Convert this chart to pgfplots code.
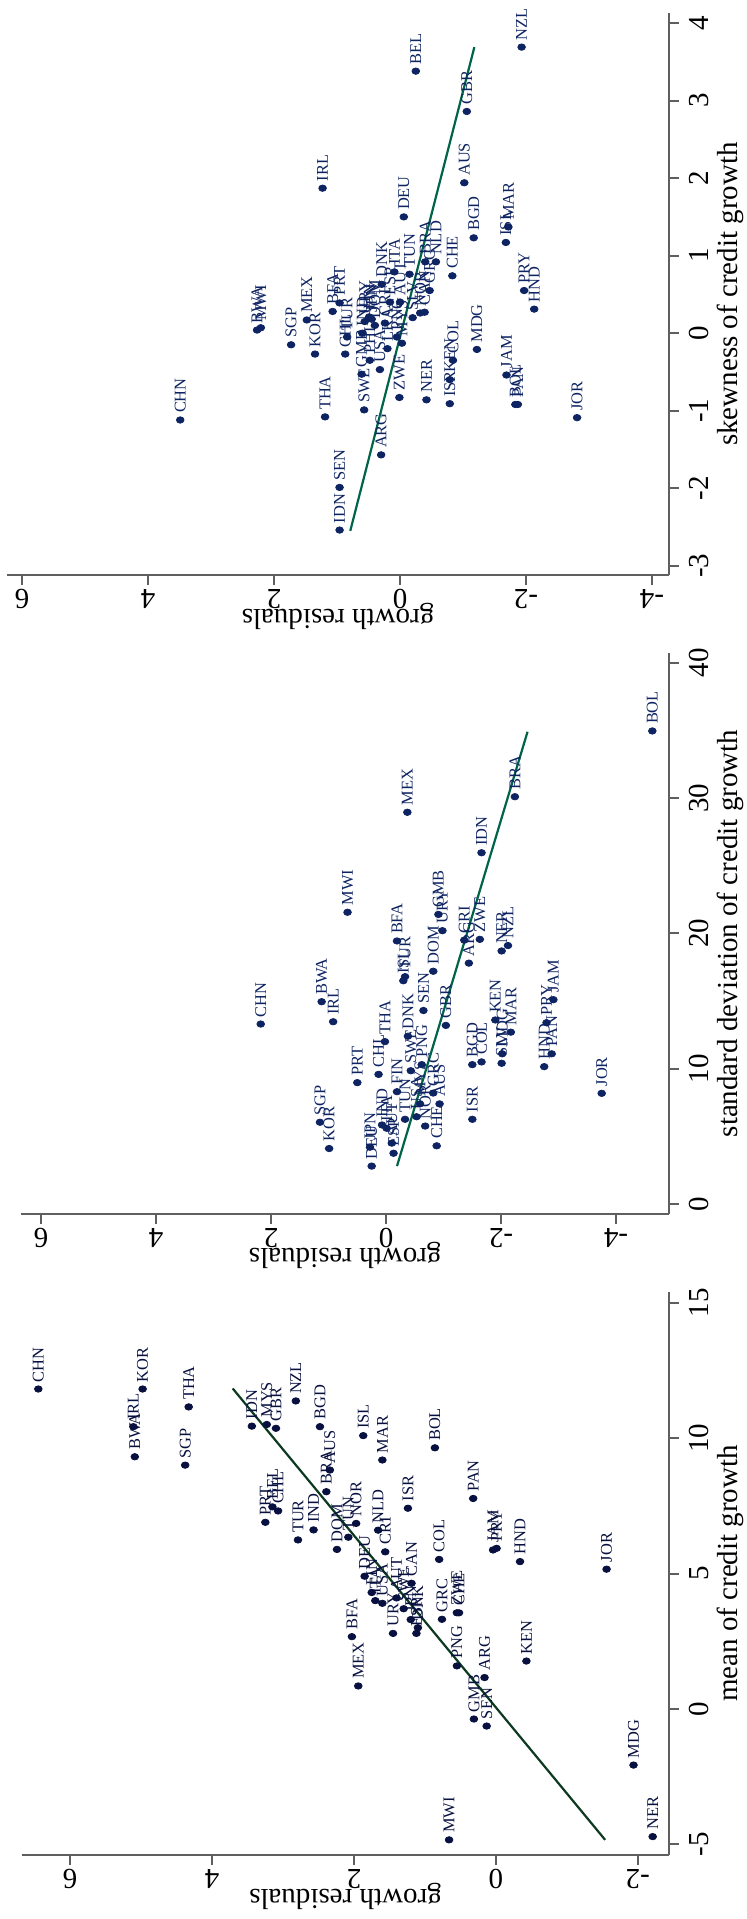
\documentclass[border=0pt]{standalone}
\usepackage{fontspec}
\setmainfont{Liberation Serif}
\usepackage{pgfplots}
\usepackage{pgfplotstable}
\pgfplotsset{compat=1.18}
\definecolor{mk}{RGB}{14,36,98}
\definecolor{mkb}{RGB}{8,16,64}
\definecolor{fitc}{RGB}{0,100,72}
\definecolor{fitb}{RGB}{12,58,32}
\definecolor{axc}{RGB}{95,95,95}

\pgfplotstableread{
c r v
NZL -1.93 3.69
BEL -0.25 3.38
GBR -1.06 2.86
AUS -1.02 1.94
IRL 1.23 1.87
DEU -0.06 1.50
MAR -1.72 1.37
BGD -1.17 1.23
ISL -1.68 1.17
NLD -0.57 0.92
BRA -0.40 0.92
ITA 0.09 0.79
TUN -0.15 0.76
CHE -0.83 0.74
DNK 0.29 0.63
PRY -1.97 0.55
GRC -0.47 0.55
AUT 0.00 0.40
ESP 0.16 0.40
HND -2.13 0.31
NOR -0.32 0.26
CAN -0.39 0.27
BFA 1.07 0.28
PRT 0.96 0.39
FIN 0.49 0.21
URY 0.56 0.15
JPN 0.45 0.18
CRI 0.24 0.13
KOR 1.35 -0.27
CHL 0.87 -0.27
TUR 0.84 -0.05
MEX 1.48 0.17
SGP 1.73 -0.15
BWA 2.27 0.04
MWI 2.21 0.07
CHN 3.49 -1.12
THA 1.19 -1.08
SWE 0.57 -0.99
ARG 0.30 -1.57
IDN 0.96 -2.54
SEN 0.96 -1.99
ZWE 0.01 -0.83
NER -0.42 -0.86
ISR -0.79 -0.91
KEN -0.79 -0.60
COL -0.84 -0.35
MDG -1.22 -0.21
JAM -1.69 -0.54
BOL -1.83 -0.92
PAN -1.87 -0.92
JOR -2.81 -1.09
USA 0.32 -0.47
GMB 0.61 -0.53
PHL 0.48 -0.35
LKA 0.20 -0.20
MYS -0.03 -0.13
PNG 0.05 -0.05
IND 0.60 0.00
DOM 0.40 0.10
SLV -0.20 0.20
}\topdata

\pgfplotstableread{
c r v
CHN 2.18 13.3
BWA 1.12 14.95
IRL 0.92 13.47
MWI 0.67 21.56
MEX -0.37 28.95
IDN -1.66 25.96
BRA -2.24 30.1
BOL -4.63 34.96
BFA -0.19 19.44
TUR -0.33 16.8
ISL -0.30 16.5
DOM -0.82 17.2
GMB -0.91 21.4
URY -0.98 20.2
CRI -1.36 19.5
ARG -1.44 17.8
ZWE -1.63 19.56
NER -2.01 18.7
NZL -2.12 19.1
SEN -0.65 14.3
GBR -1.04 13.2
KEN -1.90 13.6
MAR -2.17 12.7
JAM -2.91 15.1
PRY -2.79 13.4
PAN -2.88 11.1
HND -2.75 10.15
MDG -2.02 11.1
SLV -2.01 10.4
BGD -1.50 10.3
COL -1.66 10.5
ISR -1.50 6.26
THA 0.02 12.0
DNK -0.38 12.4
CHL 0.13 9.58
PRT 0.50 8.97
SWE -0.43 9.85
PNG -0.62 10.3
FIN -0.19 8.3
TUN -0.33 6.26
MYS -0.59 7.4
USA -0.53 6.45
GRC -0.82 8.2
AUS -0.93 7.4
CHE -0.88 4.3
NOR -0.68 5.76
IND 0.07 5.84
ITA -0.01 5.6
AUT -0.10 4.5
ESP -0.13 3.75
JPN 0.28 4.2
DEU 0.25 2.8
KOR 0.99 4.1
SGP 1.15 6.04
JOR -3.75 8.18
}\middata

\pgfplotstableread{
c r v
CHN 6.45 11.81
KOR 4.98 11.81
BWA 5.09 9.31
IRL 5.11 10.42
THA 4.33 11.15
SGP 4.38 9.0
IDN 3.44 10.44
MYS 3.23 10.5
GBR 3.10 10.36
NZL 2.82 11.37
BGD 2.48 10.42
ISL 1.87 10.09
AUS 2.34 8.82
BRA 2.39 8.02
PRT 3.25 6.89
BEL 3.15 7.46
CHL 3.07 7.31
TUR 2.79 6.24
IND 2.57 6.61
DOM 2.24 5.89
NOR 1.97 6.85
TUN 2.08 6.34
MAR 1.60 9.19
BOL 0.86 9.64
ISR 1.24 7.41
PAN 0.32 7.77
NLD 1.66 6.6
CRI 1.56 5.8
COL 0.80 5.52
JAM 0.04 5.87
PRY -0.01 5.93
HND -0.34 5.44
JOR -1.56 5.16
CAN 1.19 4.64
MEX 1.94 0.85
BFA 2.03 2.67
MWI 0.66 -4.83
NER -2.21 -4.71
MDG -1.94 -2.07
KEN -0.43 1.77
ARG 0.16 1.16
PNG 0.55 1.59
GMB 0.31 -0.37
SEN 0.13 -0.63
GRC 0.76 3.31
ZWE 0.55 3.55
CHE 0.52 3.55
URY 1.45 2.79
ESP 1.12 2.79
DEU 1.85 4.9
FIN 1.75 4.3
ITA 1.70 4.0
USA 1.60 3.9
AUT 1.40 4.1
SWE 1.30 3.7
JPN 1.20 3.3
DNK 1.10 3.0
}\botdata

\pgfplotsset{
  panel/.style={
    scale only axis,
    anchor=south west,
    x dir=reverse,
    axis x line*=bottom,
    axis y line*=right,
    axis line style={-, color=axc, line width=1pt},
    every tick/.style={color=axc, line width=1pt},
    tick align=outside,
    major tick length=5pt,
    xtick={-4,-2,0,2,4,6},
    xticklabel style={rotate=180, anchor=south, inner sep=2pt, font=\fontsize{14.5}{17}\selectfont},
    yticklabel style={rotate=90, anchor=north, inner sep=5pt, font=\fontsize{14.5}{17}\selectfont},
    /pgf/number format/assume math mode=true,
    clip=false,
  },
  dots/.style={only marks, mark=*, mark size=1.6pt, mark options={xscale=1.2, draw=#1, fill=#1},
    nodes near coords, point meta=explicit symbolic,
    every node near coord/.append style={rotate=90, anchor=west, inner xsep=3.3pt, inner ysep=0pt,
      font=\fontsize{8.2}{9}\selectfont, text=#1}},
}

\begin{document}
\begin{tikzpicture}
\path[use as bounding box] (0,0) rectangle (373pt,-959.5pt);

% top panel: skewness
\begin{axis}[panel, at={(3.5pt,-287.5pt)}, width=331pt, height=281pt,
  xmin=-4.27, xmax=6.24, ymin=-3.12, ymax=4.13, ytick={-3,-2,...,4}]
\addplot[dots=mk] table[x=r, y=v, meta=c] {\topdata};
\addplot[fitc, line width=1.1pt, no marks] coordinates {(0.79,-2.55) (-1.18,3.69)};
\end{axis}

% middle panel: standard deviation
\begin{axis}[panel, at={(10.75pt,-607pt)}, width=323.75pt, height=280.5pt,
  xmin=-4.92, xmax=6.34, ymin=-0.74, ymax=40.72, ytick={0,10,...,40}]
\addplot[dots=mk] table[x=r, y=v, meta=c] {\middata};
\addplot[fitc, line width=1.1pt, no marks] coordinates {(-0.19,2.8) (-2.46,34.9)};
\end{axis}

% bottom panel: mean
\begin{axis}[panel, at={(11pt,-927.5pt)}, width=323.5pt, height=281.5pt,
  xmin=-2.44, xmax=6.68, ymin=-5.39, ymax=15.39, ytick={-5,0,...,15}]
\addplot[dots=mkb] table[x=r, y=v, meta=c] {\botdata};
\addplot[fitb, line width=1.1pt, no marks] coordinates {(-1.54,-4.83) (3.71,11.83)};
\end{axis}

\node[rotate=90, font=\fontsize{14.5}{17}\selectfont] at (365.25pt,-147pt) {skewness of credit growth};
\node[rotate=90, font=\fontsize{14.5}{17}\selectfont] at (365.25pt,-466.75pt) {standard deviation of credit growth};
\node[rotate=90, font=\fontsize{14.5}{17}\selectfont] at (365.25pt,-786.75pt) {mean of credit growth};
\node[rotate=180, font=\fontsize{14.5}{17}\selectfont] at (169pt,-308pt) {growth residuals};
\node[rotate=180, font=\fontsize{14.5}{17}\selectfont] at (172.6pt,-627.5pt) {growth residuals};
\node[rotate=180, font=\fontsize{14.5}{17}\selectfont] at (172.75pt,-948pt) {growth residuals};
\end{tikzpicture}
\end{document}
